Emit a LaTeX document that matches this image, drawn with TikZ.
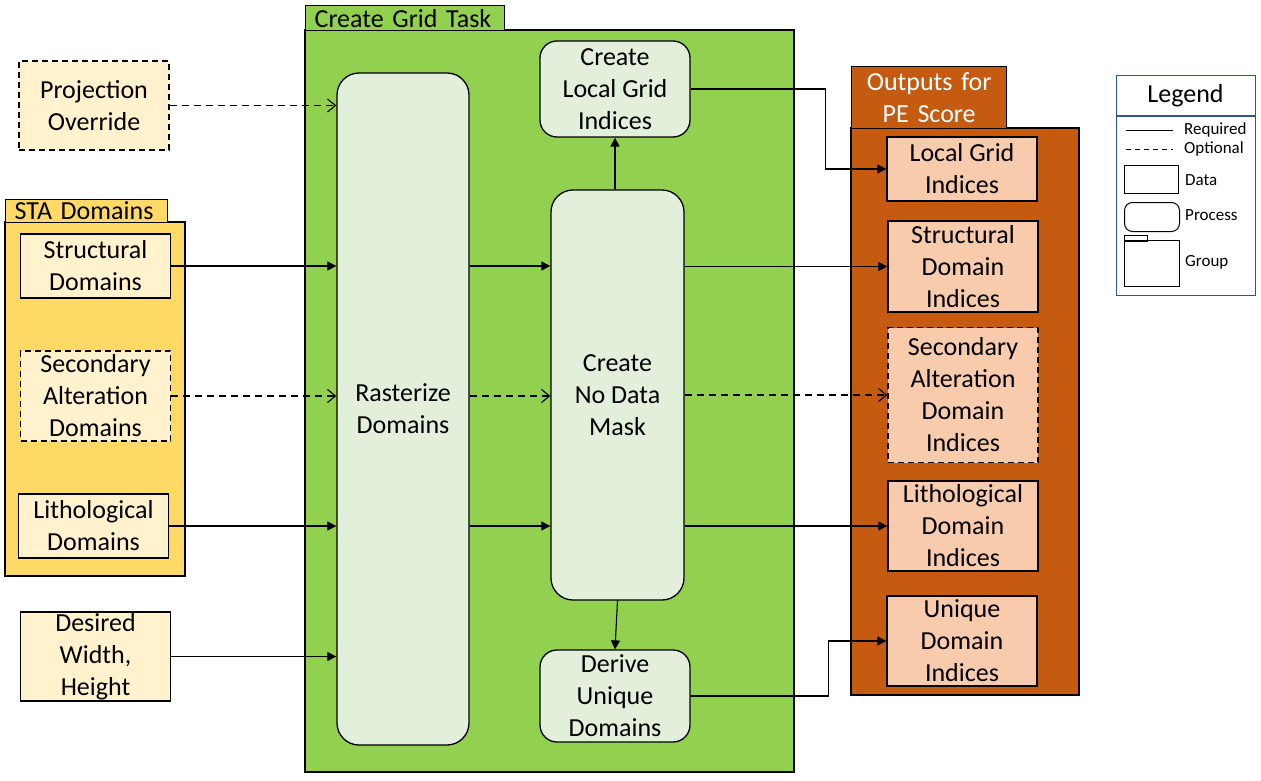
\documentclass[tikz,border=0pt]{standalone}
\usepackage{fontspec}
\setmainfont{Carlito}
\usetikzlibrary{arrows.meta,positioning}

\definecolor{staGroup}{HTML}{FFD966}
\definecolor{staData}{HTML}{FFF2CC}
\definecolor{taskGroup}{HTML}{92D050}
\definecolor{taskProc}{HTML}{E2EFDA}
\definecolor{outGroup}{HTML}{C55A11}
\definecolor{outData}{HTML}{F8CBAD}
\definecolor{legendBlue}{HTML}{2F5597}

\begin{document}
\begin{tikzpicture}[
    x = 1pt, y = -1pt, % work in pixels, y down
    font = \fontsize{26}{32}\selectfont,
    > = {Triangle[length=9pt,width=9pt]}, % filled head for required flow
    req/.style = {->, line width=1.1pt},
    opt/.style = {-{Straight Barb[length=8pt,width=13pt]}, line width=1.1pt, dash pattern=on 7pt off 5pt},
    dashbox/.style = {dash pattern=on 6pt off 4pt},
    data/.style = {draw, line width=1.3pt, inner sep=0pt, align=center, minimum width=150, minimum height=64},
    process/.style = {data, fill=taskProc, rounded corners=17},
    group/.style = {draw, line width=1.3pt},
    tab/.style = {draw, line width=1.3pt, inner ysep=0pt, inner xsep=9pt, anchor=north west, align=left},
    legtext/.style = {anchor=west, inner sep=0pt, font=\fontsize{17}{20}\selectfont}
    ]

    \useasboundingbox (0,0) rectangle (1261,781);

    % groups
    \draw[group, fill=staGroup] (5,222) rectangle (185,576);
    \node[tab, fill=staGroup, text width=144, minimum height=23] (staTab) at (5,199) {STA Domains};

    \draw[group, fill=taskGroup] (305,30) rectangle (794,772);
    \node[tab, fill=taskGroup, text width=181, minimum height=25] (taskTab) at (305,5) {Create Grid Task};

    \draw[group, fill=outGroup] (851,128) rectangle (1079,695);
    \node[tab, fill=outGroup, text=white, align=center, text width=137, minimum height=62] (outTab) at (851,66) {Outputs for\\PE Score};

    % inputs
    \node[data, dashbox, fill=staData, minimum height=89] (po) at (94,105.5) {Projection\\Override};
    \node[data, fill=staData] (sd) at (95.5,266) {Structural\\Domains};
    \node[data, dashbox, fill=staData, minimum height=90] (sa) at (95.5,396) {Secondary\\Alteration\\Domains};
    \node[data, fill=staData] (ld) at (93.5,526) {Lithological\\Domains};
    \node[data, fill=staData, minimum height=89] (dw) at (95.5,656.5) {Desired\\Width,\\Height};

    % processes
    \node[process, rounded corners=22, minimum width=132, minimum height=672] (rd) at (403,409) {Rasterize\\Domains};
    \node[process, minimum height=96] (clg) at (615,89) {Create\\Local Grid\\Indices};
    \node[process, rounded corners=22, minimum width=133, minimum height=410] (ndm) at (617.5,395) {Create\\No Data\\Mask};
    \node[process, minimum height=92] (du) at (615,696) {Derive\\Unique\\Domains};

    % outputs
    \node[data, fill=outData] (lgi) at (962,169) {Local Grid\\Indices};
    \node[data, fill=outData, minimum height=91] (sdi) at (963,266.5) {Structural\\Domain\\Indices};
    \node[data, dashbox, fill=outData, minimum height=135] (sai) at (963,395) {Secondary\\Alteration\\Domain\\Indices};
    \node[data, fill=outData, minimum height=90] (ldi) at (963,526) {Lithological\\Domain\\Indices};
    \node[data, fill=outData, minimum height=90] (udi) at (962,641) {Unique\\Domain\\Indices};

    % flows into rasterize
    \draw[opt] (po.east) -- (po.east -| rd.west);
    \draw[req] (sd.east) -- (sd.east -| rd.west);
    \draw[opt] (sa.east) -- (sa.east -| rd.west);
    \draw[req] (ld.east) -- (ld.east -| rd.west);
    \draw[req] (dw.east) -- (dw.east -| rd.west);

    % rasterize to mask
    \draw[req] (sd -| rd.east) -- (sd -| ndm.west);
    \draw[opt] (sa -| rd.east) -- (sa -| ndm.west);
    \draw[req] (ld -| rd.east) -- (ld -| ndm.west);

    % mask to the rest
    \draw[req] (ndm.north -| clg) -- (clg.south);
    \draw[req] (ndm.south) -- (du.north);
    \draw[req] (sdi -| ndm.east) -- (sdi.west);
    \draw[opt] (sai -| ndm.east) -- (sai.west);
    \draw[req] (ldi -| ndm.east) -- (ldi.west);
    \draw[req] (clg.east) -- ++(135,0) |- (lgi.west);
    \draw[req] (du.east) -- ++(138,0) |- (udi.west);

    % legend
    \node[draw=legendBlue, line width=1.2pt, minimum width=139, minimum height=220, inner sep=0pt, anchor=north west] (legend) at (1116,75) {};
    \draw[legendBlue, line width=1.2pt] (legend.north west) ++(0,41) -- ++(139,0);
    \node (legTitle) at (1185.5,96) {Legend};
    \coordinate (reqA) at (1126,130);
    \coordinate (reqB) at (1173,130);
    \coordinate (optA) at (1126,149);
    \coordinate (optB) at (1173,149);
    \draw[line width=0.9pt] (reqA) -- (reqB);
    \draw[line width=0.9pt, dash pattern=on 5pt off 4pt] (optA) -- (optB);
    \node[legtext] (reqT) at (1184,130) {Required};
    \node[legtext] (optT) at (1184,149) {Optional};
    \node[draw, line width=1pt, minimum width=54, minimum height=28, inner sep=0pt, anchor=north west] (legData) at (1124,165) {};
    \node[legtext] (dataT) at (1185,180) {Data};
    \node[draw, line width=1pt, rounded corners=8, minimum width=55, minimum height=29, inner sep=0pt, anchor=north west] (legProc) at (1124,202) {};
    \node[legtext] (procT) at (1185,215) {Process};
    \node[draw, line width=1pt, minimum width=23, minimum height=6, inner sep=0pt, anchor=north west] (legTab) at (1124,235) {};
    \node[draw, line width=1pt, minimum width=55, minimum height=46, inner sep=0pt, anchor=north west] (legGroup) at (1124,240) {};
    \node[legtext] (groupT) at (1185,262) {Group};
\end{tikzpicture}
\end{document}
